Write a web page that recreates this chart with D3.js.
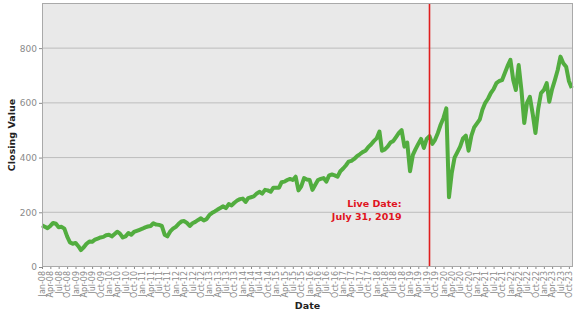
<!DOCTYPE html>
<html>
<head>
<meta charset="utf-8">
<script src="https://cdn.jsdelivr.net/npm/d3@7"></script>
<style>
  body { margin: 0; background: #fff; }
  text { font-family: "DejaVu Sans", Verdana, sans-serif; }
</style>
</head>
<body>
<div id="chart"></div>
<script>

  /**
   * Data
   */

  // first month of the monthly series
  const startMonth = '2008-01-01';

  // monthly closing values, one per month from Jan 2008
  const closes = [
    152, 147, 142, 150, 161, 158, 145, 147, 140, 112, 90, 85,       // 2008
    88, 76, 62, 72, 85, 93, 92, 100, 104, 108, 110, 116,            // 2009
    118, 112, 120, 129, 122, 108, 112, 124, 118, 128, 132, 136,     // 2010
    140, 145, 148, 150, 160, 155, 154, 150, 118, 112, 130, 140,     // 2011
    147, 158, 166, 168, 161, 150, 160, 165, 172, 178, 170, 175,     // 2012
    190, 198, 203, 210, 216, 222, 215, 230, 225, 235, 243, 248,     // 2013
    250, 238, 252, 255, 258, 268, 275, 268, 282, 280, 275, 290,     // 2014
    290, 290, 310, 312, 318, 322, 318, 330, 280, 295, 325, 320,     // 2015
    318, 282, 300, 318, 322, 325, 312, 335, 338, 335, 330, 350,     // 2016
    360, 372, 385, 388, 395, 405, 412, 420, 425, 438, 448, 460,     // 2017
    470, 495, 425, 430, 440, 455, 460, 475, 490, 500, 440, 455,     // 2018
    350, 410, 430, 450, 468, 435, 468, 478, 450, 465, 490, 520,     // 2019
    545, 580, 255, 345, 400, 420, 440, 470, 480, 425, 480, 510,     // 2020
    525, 540, 575, 600, 615, 636, 650, 672, 680, 683, 709, 735,     // 2021
    757, 683, 647, 738, 647, 526, 600, 622, 560, 490, 580, 636,     // 2022
    647, 672, 604, 650, 683, 720, 769, 745, 732, 680, 654           // 2023
  ];

  const domainStart = '2008-01-01';
  const domainEnd = '2023-11-15';
  const liveDate = '2019-07-31';
  const liveLabel = ['Live Date:', 'July 31, 2019'];

  const yTicks = [0, 200, 400, 600, 800];
  const yMax = 965;



  /**
   * Setup
   */

  const width = 577;
  const height = 315;
  const margin = { top: 3, right: 4, bottom: 48, left: 42 };

  const colors = {
    panel: '#e9e9e9',
    border: '#a9a9a9',
    grid: '#bdbdbd',
    tick: '#8a8a8a',
    line: '#52ad3f',
    live: '#e01e1e',
    liveText: '#e0141e',
  };

  const parse = d3.utcParse('%Y-%m-%d');
  const start = parse(startMonth);

  const series = closes.map((value, i) => ({
    date: d3.utcMonth.offset(start, i),
    value,
  }));

  const svg = d3.select('#chart')
                .append('svg')
                .attr('width', width)
                .attr('height', height);

  const x = d3.scaleUtc()
              .domain([parse(domainStart), parse(domainEnd)])
              .range([margin.left, width - margin.right]);

  const y = d3.scaleLinear()
              .domain([0, yMax])
              .range([height - margin.bottom, margin.top]);



  /**
   * Panel and grid
   */

  svg.append('rect')
     .attr('x', margin.left)
     .attr('y', margin.top)
     .attr('width', width - margin.left - margin.right)
     .attr('height', height - margin.top - margin.bottom)
     .attr('fill', colors.panel);

  svg.append('g')
     .selectAll('line')
     .data(yTicks.filter(d => d > 0))
     .enter()
     .append('line')
     .attr('x1', margin.left)
     .attr('x2', width - margin.right)
     .attr('y1', d => y(d))
     .attr('y2', d => y(d))
     .attr('stroke', colors.grid)
     .attr('stroke-width', 1);



  /**
   * Series
   */

  const line = d3.line()
                 .x(d => x(d.date))
                 .y(d => y(d.value));

  svg.append('path')
     .datum(series)
     .attr('fill', 'none')
     .attr('stroke', colors.line)
     .attr('stroke-width', 4)
     .attr('stroke-linejoin', 'round')
     .attr('d', line);

  const liveX = Math.round(x(parse(liveDate))) + 0.5;

  svg.append('line')
     .attr('x1', liveX)
     .attr('x2', liveX)
     .attr('y1', margin.top)
     .attr('y2', height - margin.bottom)
     .attr('stroke', colors.live)
     .attr('stroke-width', 1.6);

  svg.append('text')
     .attr('text-anchor', 'end')
     .attr('x', liveX - 28)
     .attr('fill', colors.liveText)
     .attr('font-size', 9.5)
     .attr('font-weight', 'bold')
     .selectAll('tspan')
     .data(liveLabel)
     .enter()
     .append('tspan')
     .attr('x', liveX - 28)
     .attr('y', (d, i) => y(220) + i * 13.5)
     .text(d => d);

  // border on top of everything
  svg.append('rect')
     .attr('x', margin.left + 0.5)
     .attr('y', margin.top + 0.5)
     .attr('width', width - margin.left - margin.right - 1)
     .attr('height', height - margin.top - margin.bottom - 1)
     .attr('fill', 'none')
     .attr('stroke', colors.border);



  /**
   * Axes
   */

  const yAxis = svg.append('g')
                   .attr('transform', `translate(${margin.left},0)`)
                   .call(d3.axisLeft(y).tickValues(yTicks).tickSize(3).tickPadding(2));

  yAxis.select('.domain').remove();
  yAxis.selectAll('line').attr('stroke', colors.tick);
  yAxis.selectAll('text')
       .attr('fill', colors.tick)
       .attr('font-size', 9)
       .style('font-family', '"DejaVu Sans", sans-serif');

  const xTicks = d3.utcMonth.every(3).range(parse(domainStart), parse(domainEnd));

  const xAxis = svg.append('g')
                   .attr('transform', `translate(0,${height - margin.bottom})`)
                   .call(d3.axisBottom(x)
                           .tickValues(xTicks)
                           .tickFormat(d3.utcFormat('%b-%y'))
                           .tickSize(2)
                           .tickPadding(2));

  xAxis.select('.domain').remove();
  xAxis.selectAll('line').attr('stroke', colors.tick);
  xAxis.selectAll('text')
       .attr('fill', colors.tick)
       .attr('font-size', 8)
       .style('font-family', '"DejaVu Sans", sans-serif')
       .attr('text-anchor', 'end')
       .attr('dy', '0.32em')
       .attr('transform', 'translate(0,2) rotate(-90)')
       .attr('x', -2)
       .attr('y', 0);

  svg.append('text')
     .attr('x', (margin.left + width - margin.right) / 2)
     .attr('y', 309)
     .attr('text-anchor', 'middle')
     .attr('font-size', 9.5)
     .attr('font-weight', 'bold')
     .attr('fill', '#222')
     .text('Date');

  svg.append('text')
     .attr('transform', `translate(15,${(margin.top + height - margin.bottom) / 2}) rotate(-90)`)
     .attr('text-anchor', 'middle')
     .attr('font-size', 9.5)
     .attr('font-weight', 'bold')
     .attr('fill', '#222')
     .text('Closing Value');

</script>
</body>
</html>
